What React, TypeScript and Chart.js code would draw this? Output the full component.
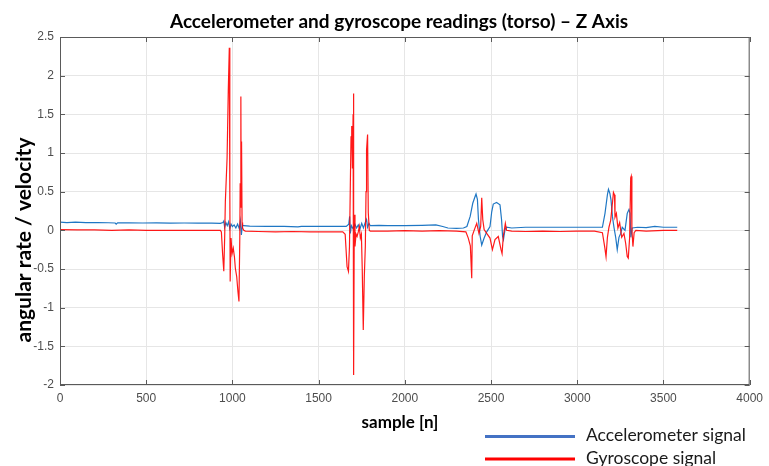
import React, { useEffect, useRef } from "react";
import { Chart, registerables } from "chart.js";

Chart.register(...registerables);

const TITLE = "Accelerometer and gyroscope readings (torso) – Z Axis";
const X_TITLE = "sample [n]";
const Y_TITLE = "angular rate / velocity";
const SERIES_NAMES = ["Accelerometer signal", "Gyroscope signal"];
const X_TICKS = [0, 500, 1000, 1500, 2000, 2500, 3000, 3500, 4000];
const Y_TICKS = [-2, -1.5, -1, -0.5, 0, 0.5, 1, 1.5, 2, 2.5];

const accelSamples = [
  0, 40, 90, 150, 220, 280, 320, 326, 334, 400, 480, 560, 640, 720, 800, 880, 930,
  945, 950, 955, 962, 970, 978, 985, 992, 1000, 1010, 1020, 1030, 1040, 1046, 1052, 1058,
  1065, 1100, 1200, 1300, 1380, 1400, 1500, 1600, 1660, 1675, 1680, 1684, 1690, 1700,
  1710, 1720, 1730, 1740, 1750, 1760, 1770, 1778, 1784, 1792, 1800, 1850, 1900, 2000,
  2100, 2180, 2220, 2250, 2300, 2340, 2360, 2379, 2394, 2408, 2413, 2421, 2427, 2437,
  2446, 2460, 2475, 2494, 2504, 2513, 2532, 2552, 2561, 2567, 2572, 2581, 2590, 2620,
  2700, 2800, 2900, 3000, 3100, 3146, 3161, 3175, 3181, 3189, 3196, 3204, 3213, 3223,
  3232, 3242, 3252, 3261, 3277, 3290, 3300, 3306, 3311, 3319, 3350, 3400, 3450, 3500,
  3550, 3580,
];
const accelValues = [
  0.105, 0.1, 0.105, 0.1, 0.1, 0.098, 0.095, 0.08, 0.097, 0.098, 0.095, 0.097, 0.094, 0.095, 0.093, 0.092, 0.09,
  0.1, 0.12, 0.04, 0.1, 0.06, 0.11, 0.02, 0.08, 0.05, 0.07, 0.03, 0.08, 0.02, 0.12, -0.06, 0.07,
  0.06, 0.055, 0.05, 0.05, 0.045, 0.05, 0.05, 0.05, 0.05, 0.08, 0.18, -0.04, 0.06, 0.02,
  0.08, 0.03, 0.07, 0.02, 0.09, 0.03, 0.1, 0.14, 0.04, 0.09, 0.06, 0.065, 0.06, 0.06,
  0.065, 0.07, 0.05, 0.03, 0.025, 0.03, 0.05, 0.18, 0.35, 0.44, 0.47, 0.4, 0.14, -0.08,
  -0.19, -0.1, -0.02, 0.05, 0.24, 0.34, 0.36, 0.33, 0.14, -0.08, -0.12, 0.01, 0.04, 0.03,
  0.04, 0.04, 0.04, 0.04, 0.04, 0.04, 0.22, 0.46, 0.53, 0.48, 0.39, 0.18, 0.04, -0.09,
  -0.25, -0.09, -0.04, 0.04, 0.0, 0.22, 0.27, 0.22, -0.09, 0.03, 0.04, 0.035, 0.05, 0.04,
  0.04, 0.04,
];

const gyroSamples = [
  0, 100, 200, 300, 400, 500, 600, 700, 800, 900, 930, 936, 943, 950, 955, 959, 969, 976,
  982, 985, 987, 992, 998, 1005, 1012, 1017, 1025, 1032, 1038, 1043, 1045, 1049, 1051,
  1053, 1056, 1059, 1066, 1075, 1150, 1250, 1350, 1450, 1550, 1640, 1654, 1665, 1673,
  1679, 1684, 1688, 1692, 1696, 1700, 1702, 1704, 1707, 1711, 1717, 1723, 1730, 1736,
  1742, 1748, 1753, 1759, 1765, 1771, 1775, 1778, 1784, 1788, 1794, 1800, 1900, 2000,
  2100, 2200, 2300, 2354, 2368, 2380, 2388, 2391, 2402, 2417, 2430, 2440, 2446, 2452,
  2460, 2475, 2494, 2508, 2523, 2542, 2558, 2564, 2571, 2583, 2590, 2620, 2700, 2800,
  2900, 3000, 3100, 3146, 3159, 3167, 3175, 3184, 3194, 3204, 3210, 3216, 3219, 3227,
  3236, 3246, 3258, 3271, 3281, 3290, 3296, 3304, 3310, 3313, 3317, 3323, 3330, 3340,
  3400, 3500, 3580,
];
const gyroValues = [
  0.01, 0.005, 0.005, 0.0, 0.005, 0.0, 0.0, 0.0, 0.0, 0.0, 0.0, -0.02, -0.3, -0.53, -0.1, 0.37, 0.93, 1.8,
  2.36, 0.5, -0.66, -0.1, -0.3, -0.23, -0.35, -0.49, -0.6, -0.79, -0.92, -0.06, 0.6, 1.73, 0.3,
  1.15, 0.1, 0.03, 0.0, -0.01, -0.015, -0.02, -0.015, -0.02, -0.02, -0.02, -0.05, -0.47, -0.53,
  -0.21, 0.6, 1.21, 1.35, 0.8, 1.5, 1.77, -1.87, 0.2, -0.21, -0.05, -0.08, -0.02, 0.05,
  -0.1, -0.05, -0.5, -1.29, -0.6, -0.2, 0.5, 1.04, 1.24, 0.23, 0.0, -0.01, -0.01, -0.005,
  -0.01, -0.005, -0.01, -0.02, -0.1, -0.2, -0.62, -0.07, 0.0, 0.09, -0.04, 0.05, 0.42, 0.14,
  0.01, -0.04, -0.1, -0.25, -0.12, -0.08, -0.25, -0.3, -0.08, 0.09, 0.0, -0.01, -0.015, -0.01,
  -0.015, -0.01, -0.01, -0.03, -0.21, -0.34, -0.09, 0.04, 0.13, 0.35, 0.49, 0.46, 0.17, 0.22,
  0.03, 0.1, -0.09, -0.04, -0.17, -0.34, -0.36, -0.09, 0.68, 0.7, 0.01, -0.21, -0.03, 0.0,
  -0.01, 0.0, 0.0,
];

const LINE_COLORS = ["#1f77c4", "rgba(255,0,0,0.9)"];
const LEGEND_COLORS = ["#4472C4", "#FF0000"];

const toPoints = (xs: number[], ys: number[]) => xs.map((x, i) => ({ x, y: ys[i] }));

const decorPlugin = {
  id: "decor",
  afterDraw(chart: any) {
    const { ctx, chartArea } = chart;
    const { left, right, top, bottom } = chartArea;
    const xs = chart.scales.x;
    const ys = chart.scales.y;
    ctx.save();
    // frame
    ctx.strokeStyle = "#5a5a5a";
    ctx.lineWidth = 1;
    ctx.strokeRect(left + 0.5, top + 0.5, right - left - 1, bottom - top - 1);
    // inward ticks
    ctx.beginPath();
    X_TICKS.forEach((v) => {
      const p = Math.round(xs.getPixelForValue(v)) + 0.5;
      ctx.moveTo(p, bottom);
      ctx.lineTo(p, bottom - 5);
      ctx.moveTo(p, top);
      ctx.lineTo(p, top + 5);
    });
    Y_TICKS.forEach((v) => {
      const p = Math.round(ys.getPixelForValue(v)) + 0.5;
      ctx.moveTo(left, p);
      ctx.lineTo(left + 5, p);
      ctx.moveTo(right, p);
      ctx.lineTo(right - 5, p);
    });
    ctx.stroke();

    // titles
    ctx.fillStyle = "#000";
    ctx.textAlign = "center";
    ctx.textBaseline = "alphabetic";
    ctx.font = "bold 19px Lato";
    ctx.fillText(TITLE, 399, 28);
    ctx.font = "bold 17px Lato";
    ctx.fillText(X_TITLE, 400, 428);
    ctx.save();
    ctx.translate(31, 240);
    ctx.rotate(-Math.PI / 2);
    ctx.font = "bold 21px Lato";
    ctx.fillText(Y_TITLE, 0, 0);
    ctx.restore();

    // legend
    const ly = [436.5, 459];
    SERIES_NAMES.forEach((name, i) => {
      ctx.strokeStyle = LEGEND_COLORS[i];
      ctx.lineWidth = 3;
      ctx.beginPath();
      ctx.moveTo(485, ly[i]);
      ctx.lineTo(575, ly[i]);
      ctx.stroke();
      ctx.fillStyle = "#1a1a1a";
      ctx.font = "17.5px Lato";
      ctx.textAlign = "left";
      ctx.textBaseline = "middle";
      ctx.fillText(name, 586, ly[i] - 1);
    });
    ctx.restore();
  },
};

export default function App() {
  const ref = useRef<HTMLCanvasElement | null>(null);
  useEffect(() => {
    if (!ref.current) return;
    const chart = new Chart(ref.current, {
      type: "line",
      data: {
        datasets: [
          {
            label: SERIES_NAMES[0],
            data: toPoints(accelSamples, accelValues),
            borderColor: LINE_COLORS[0],
            borderWidth: 1.2,
            pointRadius: 0,
            tension: 0,
            order: 2,
          },
          {
            label: SERIES_NAMES[1],
            data: toPoints(gyroSamples, gyroValues),
            borderColor: LINE_COLORS[1],
            borderWidth: 1.2,
            pointRadius: 0,
            tension: 0,
            order: 1,
          },
        ],
      },
      options: {
        responsive: false,
        animation: false,
        devicePixelRatio: 1,
        layout: { padding: { top: 37, right: 14, bottom: 0, left: 0 } },
        plugins: { legend: { display: false }, title: { display: false }, tooltip: { enabled: false } },
        scales: {
          x: {
            type: "linear",
            min: 0,
            max: 4000,
            afterBuildTicks: (s: any) => {
              s.ticks = X_TICKS.map((v) => ({ value: v }));
            },
            afterFit: (s: any) => {
              s.height = 81;
            },
            grid: { color: "#e6e6e6", drawTicks: false },
            border: { display: false },
            ticks: {
              padding: 6,
              maxRotation: 0,
              autoSkip: false,
              color: "#4d4d4d",
              font: { family: "Liberation Sans", size: 12 },
              callback: (v: any) => String(v),
            },
          },
          y: {
            type: "linear",
            min: -2,
            max: 2.5,
            afterBuildTicks: (s: any) => {
              s.ticks = Y_TICKS.map((v) => ({ value: v }));
            },
            afterFit: (s: any) => {
              s.width = 60;
            },
            grid: { color: "#e6e6e6", drawTicks: false },
            border: { display: false },
            ticks: {
              padding: 6,
              autoSkip: false,
              color: "#4d4d4d",
              font: { family: "Liberation Sans", size: 12 },
              callback: (v: any) => String(v),
            },
          },
        },
      },
      plugins: [decorPlugin],
    });
    return () => chart.destroy();
  }, []);
  return (
    <div style={{ position: "absolute", left: 0, top: 0, width: 769, height: 466, background: "#fff" }}>
      <canvas ref={ref} width={769} height={466} style={{ width: 769, height: 466, display: "block" }} />
    </div>
  );
}
